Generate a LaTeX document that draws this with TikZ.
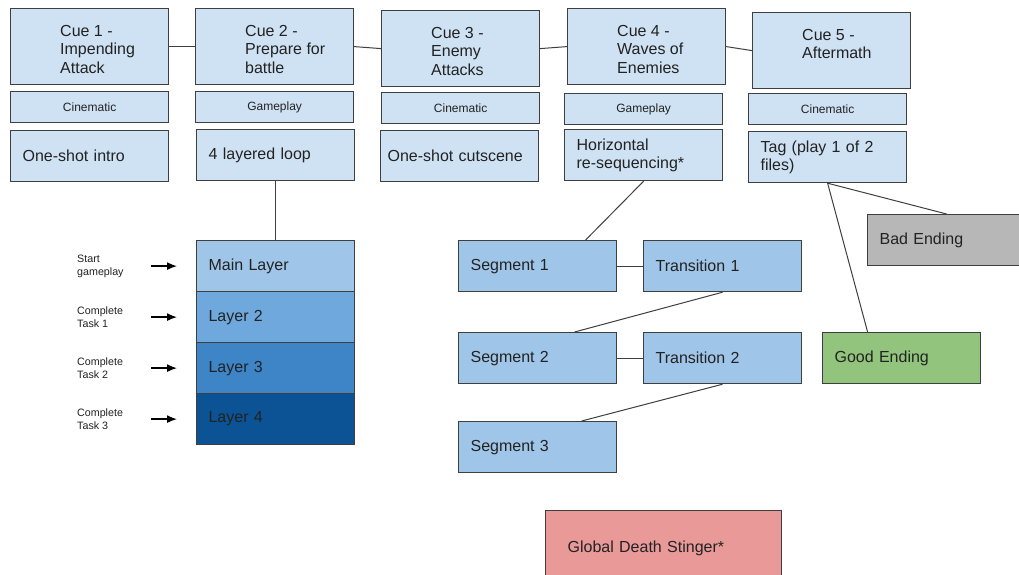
\documentclass[tikz,border=0pt]{standalone}
\usepackage{fontspec}
\setmainfont{Liberation Sans}
\usepackage{tikz}
\usetikzlibrary{arrows.meta,positioning}

\definecolor{cuefill}{HTML}{CFE2F3}
\definecolor{lay1}{HTML}{9FC5E8}
\definecolor{lay2}{HTML}{6FA8DC}
\definecolor{lay3}{HTML}{3D85C6}
\definecolor{lay4}{HTML}{0B5394}
\definecolor{badfill}{HTML}{B7B7B7}
\definecolor{goodfill}{HTML}{93C47D}
\definecolor{deathfill}{HTML}{EA9999}
\definecolor{edge}{HTML}{3F3F3F}
\definecolor{ink}{HTML}{222222}

\begin{document}
\begin{tikzpicture}[x=1pt, y=-1pt, text=ink,
  big/.style={font=\fontsize{16}{18.4}\selectfont},
  cuebox/.style={draw=edge, line width=1.2pt, fill=cuefill, anchor=north west,
    minimum width=158pt, minimum height=76pt, inner sep=0pt},
  cuetxt/.style={big, anchor=north west, align=left, inner sep=0pt},
  kindbox/.style={draw=edge, line width=1.2pt, fill=cuefill, anchor=north west,
    minimum width=158pt, minimum height=31pt, inner sep=0pt,
    font=\fontsize{12}{14}\selectfont},
  blk/.style={big, draw=edge, line width=1.2pt, fill=cuefill, anchor=north west,
    text width=134pt, inner xsep=12pt, inner ysep=0pt, minimum height=51pt, align=left},
  cond/.style={anchor=west, align=left, inner sep=0pt,
    font=\fontsize{10.7}{12.7}\selectfont},
  wire/.style={draw=edge, line width=1pt},
  trig/.style={black, line width=1.4pt, -{Latex[length=10pt,width=8pt]}}]
  \useasboundingbox (0,0) rectangle (1019,575);
  \clip (0,0) rectangle (1019,575);
  \fill[white] (0,0) rectangle (1019,575);

  % ---- top: the five cues ----
  \foreach \i/\x/\y/\txt in {1/10/8/{Cue 1 -\\Impending\\Attack},
      2/195/8/{Cue 2 -\\Prepare for\\battle}, 3/381/10/{Cue 3 -\\Enemy\\Attacks},
      4/567/8/{Cue 4 -\\Waves of\\Enemies}, 5/752/12/{Cue 5 -\\Aftermath}} {
    \node[cuebox] (c\i) at (\x,\y) {};
    \node[cuetxt] (ct\i) at ([shift={(50,17)}]c\i.north west) {\txt};
  }
  \foreach \i/\x/\y/\kind in {1/10/91/Cinematic, 2/195/91/Gameplay,
      3/381/92/Cinematic, 4/564/93/Gameplay, 5/748/93/Cinematic}
    \node[kindbox] (k\i) at (\x,\y) {\kind};
  \foreach \i/\x/\y/\txt in {1/10/130/{One-shot intro}, 2/196/129/{4 layered loop},
      4/564/129/{Horizontal\\re-sequencing*}, 5/748/131/{Tag (play 1 of 2\\files)}}
    \node[blk] (d\i) at (\x,\y) {\txt};
  \node[blk, text width=144pt, inner xsep=7pt] (d3) at (380,130) {One-shot cutscene};
  \draw[wire] (c1.east) -- (c2.west);
  \draw[wire] (c2.east) -- (c3.west);
  \draw[wire] (c3.east) -- (c4.west);
  \draw[wire] (c4.east) -- (c5.west);

  % ---- left: layered loop ----
  \foreach \i/\y/\col/\txt in {1/240/lay1/{Main Layer}, 2/291/lay2/{Layer 2},
      3/342/lay3/{Layer 3}, 4/393/lay4/{Layer 4}}
    \node[blk, fill=\col] (L\i) at (196,\y) {\txt};
  \foreach \i/\txt in {1/{Start\\gameplay}, 2/{Complete\\Task 1},
      3/{Complete\\Task 2}, 4/{Complete\\Task 3}} {
    \node[cond] (e\i) at (77,0 |- L\i.west) {\txt};
    \coordinate (a\i) at (151,0 |- L\i.west);
    \draw[trig] (a\i) -- ([xshift=-19pt]L\i.west);
  }
  \draw[wire] (d2.south) -- (L1.north);

  % ---- middle: horizontal re-sequencing ----
  \node[blk, fill=lay1] (s1) at (458,240) {Segment 1};
  \node[blk, fill=lay1] (tr1) at (643,240) {Transition 1};
  \node[blk, fill=lay1] (s2) at (458,332) {Segment 2};
  \node[blk, fill=lay1] (tr2) at (643,332) {Transition 2};
  \node[blk, fill=lay1] (s3) at (458,421) {Segment 3};
  \draw[wire] (d4.south) -- ([xshift=48pt]s1.north);
  \draw[wire] (s1.east) -- (tr1.west);
  \draw[wire] (tr1.south) -- ([xshift=37pt]s2.north);
  \draw[wire] (s2.east) -- (tr2.west);
  \draw[wire] (tr2.south) -- ([xshift=44pt]s3.north);

  % ---- right: endings ----
  \node[blk, fill=badfill, text width=150pt] (bad) at (867,214) {Bad Ending};
  \node[blk, fill=goodfill] (good) at (822,332) {Good Ending};
  \draw[wire] (d5.south) -- ([xshift=-8pt]bad.north);
  \draw[wire] (d5.south) -- ([xshift=-34pt]good.north);

  % ---- bottom: stinger ----
  \node[blk, fill=deathfill, text width=192pt, inner xsep=22pt, minimum height=76pt]
    (death) at (545,510) {Global Death Stinger*};
\end{tikzpicture}
\end{document}
